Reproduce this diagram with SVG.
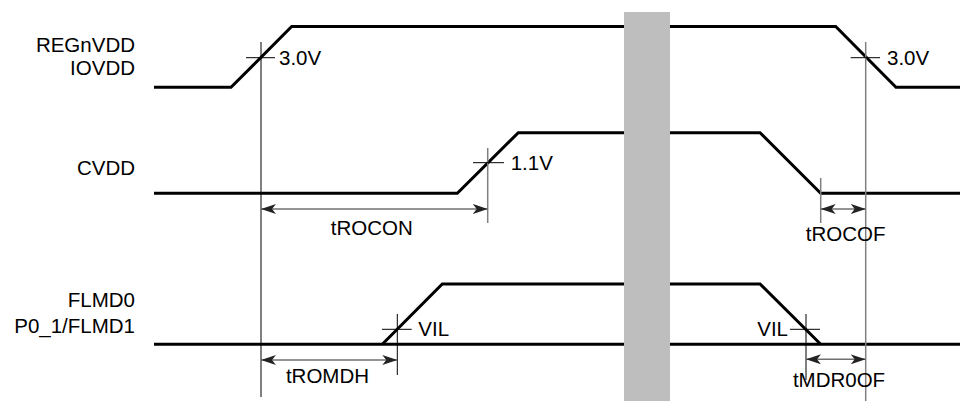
<svg xmlns="http://www.w3.org/2000/svg" width="963" height="401" viewBox="0 0 963 401">
<style>
.sig{fill:none;stroke:#000;stroke-width:3;stroke-linejoin:miter}
.thin{fill:none;stroke:#000;stroke-width:1}
.gthin{fill:none;stroke:#808080;stroke-width:1.5}
.dim{fill:none;stroke:#707070;stroke-width:1.5}
text{font-family:"Liberation Sans",Arial,sans-serif;font-size:20.5px;fill:#000}
.lbl{text-anchor:end}
.mid{text-anchor:middle}
</style>
<defs>
<marker id="ah" markerUnits="userSpaceOnUse" markerWidth="16" markerHeight="10" refX="15" refY="5" orient="auto-start-reverse">
<path d="M0,0 L15,5 L0,10 L4,5 Z" fill="#222"/>
</marker>
</defs>
<g id="labels">
<text class="lbl" x="135" y="52">REGnVDD</text>
<text class="lbl" x="135" y="75">IOVDD</text>
<text class="lbl" x="135" y="175">CVDD</text>
<text class="lbl" x="135" y="307">FLMD0</text>
<text class="lbl" x="135" y="333">P0_1/FLMD1</text>
</g>
<g id="signals">
<polyline id="sig-regnvdd" class="sig" points="154,87.3 231,87.3 291.7,26.5 835.7,26.5 896,87.3 960,87.3"/>
<polyline id="sig-cvdd" class="sig" points="154,193.3 457.3,193.3 518.3,132.7 760,132.7 820.7,193.3 960,193.3"/>
<polyline id="sig-flmd-hi" class="sig" points="382.3,344.3 442.3,284 760,284 820.7,344.3"/>
<line id="sig-flmd-lo" class="sig" x1="154" y1="344.3" x2="960" y2="344.3"/>
</g>
<g id="connectors">
<line class="thin" x1="261" y1="42" x2="261" y2="397"/>
<line class="thin" x1="246" y1="57.7" x2="275" y2="57.7"/>
<line class="gthin" x1="865.7" y1="42" x2="865.7" y2="401"/>
<line class="thin" x1="850.7" y1="57.7" x2="880" y2="57.7"/>
<line class="gthin" x1="487.7" y1="148" x2="487.7" y2="223"/>
<line class="thin" x1="473" y1="162.7" x2="504" y2="162.7"/>
<line class="gthin" x1="820.7" y1="178" x2="820.7" y2="223"/>
<line class="thin" x1="397.3" y1="314" x2="397.3" y2="375"/>
<line class="thin" x1="382" y1="329.3" x2="411.7" y2="329.3"/>
<line class="thin" x1="806" y1="314" x2="806" y2="380"/>
<line class="thin" x1="790" y1="329.3" x2="820" y2="329.3"/>
<line id="arr-trocon" class="dim" x1="261" y1="209" x2="487.7" y2="209" marker-start="url(#ah)" marker-end="url(#ah)"/>
<line id="arr-trocof" class="dim" x1="820.7" y1="209" x2="865.7" y2="209" marker-start="url(#ah)" marker-end="url(#ah)"/>
<line id="arr-tromdh" class="dim" x1="261" y1="360" x2="397.3" y2="360" marker-start="url(#ah)" marker-end="url(#ah)"/>
<line id="arr-tmdr0of" class="dim" x1="806" y1="359.3" x2="865.7" y2="359.3" marker-start="url(#ah)" marker-end="url(#ah)"/>
</g>
<g id="annotations">
<text x="279" y="65">3.0V</text>
<text x="887" y="65">3.0V</text>
<text x="510.7" y="170">1.1V</text>
<text x="418.3" y="336">VIL</text>
<text class="lbl" x="788" y="336">VIL</text>
<text class="mid" x="371.7" y="235">tROCON</text>
<text class="mid" x="845.7" y="240.7">tROCOF</text>
<text class="mid" x="327.5" y="383.3">tROMDH</text>
<text class="mid" x="839" y="386.7">tMDR0OF</text>
</g>
<g id="break">
<rect x="624" y="12" width="46" height="389" fill="#bebebe"/>
</g>
</svg>
